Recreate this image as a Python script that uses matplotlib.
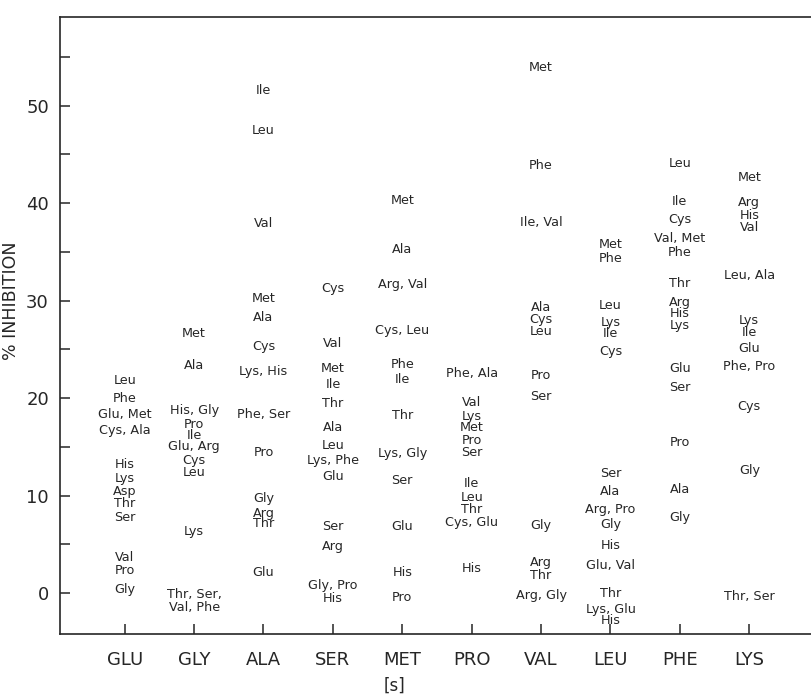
import matplotlib
matplotlib.use("Agg")
import matplotlib.pyplot as plt
from matplotlib.ticker import MultipleLocator

# substrate columns along x
columns = ["GLU", "GLY", "ALA", "SER", "MET", "PRO", "VAL", "LEU", "PHE", "LYS"]

# inhibiting amino acids in each column and their % inhibition
glu_names = ["Leu", "Phe", "Glu, Met", "Cys, Ala", "His", "Lys", "Asp", "Thr", "Ser", "Val", "Pro", "Gly"]
glu_vals = [21.8, 20.0, 18.3, 16.7, 13.2, 11.8, 10.4, 9.2, 7.8, 3.6, 2.3, 0.4]

gly_names = ["Met", "Ala", "His, Gly", "Pro", "Ile", "Glu, Arg", "Cys", "Leu", "Lys", "Thr, Ser,\nVal, Phe"]
gly_vals = [26.6, 23.3, 18.7, 17.3, 16.2, 15.0, 13.6, 12.4, 6.3, -0.85]

ala_names = ["Ile", "Leu", "Val", "Met", "Ala", "Cys", "Lys, His", "Phe, Ser", "Pro", "Gly", "Arg", "Thr", "Glu"]
ala_vals = [51.6, 47.5, 37.9, 30.2, 28.3, 25.3, 22.7, 18.3, 14.4, 9.7, 8.2, 7.1, 2.1]

ser_names = ["Cys", "Val", "Met", "Ile", "Thr", "Ala", "Leu", "Lys, Phe", "Glu", "Ser", "Arg", "Gly, Pro", "His"]
ser_vals = [31.2, 25.6, 23.0, 21.4, 19.4, 17.0, 15.1, 13.6, 12.0, 6.8, 4.8, 0.8, -0.6]

met_names = ["Met", "Ala", "Arg, Val", "Cys, Leu", "Phe", "Ile", "Thr", "Lys, Gly", "Ser", "Glu", "His", "Pro"]
met_vals = [40.3, 35.2, 31.7, 26.9, 23.5, 21.9, 18.2, 14.3, 11.5, 6.8, 2.1, -0.5]

pro_names = ["Phe, Ala", "Val", "Lys", "Met", "Pro", "Ser", "Ile", "Leu", "Thr", "Cys, Glu", "His"]
pro_vals = [22.5, 19.6, 18.1, 17.0, 15.7, 14.4, 11.2, 9.8, 8.6, 7.2, 2.5]

val_names = ["Met", "Phe", "Ile, Val", "Ala", "Cys", "Leu", "Pro", "Ser", "Gly", "Arg", "Thr", "Arg, Gly"]
val_vals = [53.9, 43.9, 38.0, 29.3, 28.1, 26.8, 22.3, 20.2, 6.9, 3.1, 1.8, -0.3]

leu_names = ["Met", "Phe", "Leu", "Lys", "Ile", "Cys", "Ser", "Ala", "Arg, Pro", "Gly", "His",
             "Glu, Val", "Thr", "Lys, Glu", "His"]
leu_vals = [35.8, 34.3, 29.5, 27.8, 26.6, 24.8, 12.3, 10.4, 8.6, 7.0, 4.9, 2.8, 0.0, -1.7, -2.8]

phe_names = ["Leu", "Ile", "Cys", "Val, Met", "Phe", "Thr", "Arg", "His", "Lys", "Glu", "Ser", "Pro", "Ala", "Gly"]
phe_vals = [44.1, 40.2, 38.3, 36.4, 34.9, 31.8, 29.8, 28.7, 27.5, 23.0, 21.1, 15.4, 10.6, 7.8]

lys_names = ["Met", "Arg", "His", "Val", "Leu, Ala", "Lys", "Ile", "Glu", "Phe, Pro", "Cys", "Gly", "Thr, Ser"]
lys_vals = [42.6, 40.1, 38.7, 37.5, 32.6, 28.0, 26.7, 25.1, 23.2, 19.1, 12.6, -0.4]

all_names = [glu_names, gly_names, ala_names, ser_names, met_names,
             pro_names, val_names, leu_names, phe_names, lys_names]
all_vals = [glu_vals, gly_vals, ala_vals, ser_vals, met_vals,
            pro_vals, val_vals, leu_vals, phe_vals, lys_vals]

ink = "#262626"
fig = plt.figure(figsize=(8.12, 7.0), dpi=100)
ax = fig.add_axes([0.0739, 0.0943, 0.9261, 0.8814])

for i, (names, vals) in enumerate(zip(all_names, all_vals)):
    for name, v in zip(names, vals):
        ax.text(i, v, name, ha="center", va="center", fontsize=9.2,
                color=ink, linespacing=1.0, family="DejaVu Sans")

ax.set_xlim(-0.932, 9.904)
ax.set_ylim(-4.2, 59.1)
ax.set_xticks(range(len(columns)))
ax.set_xticklabels(columns, fontsize=13)
ax.yaxis.set_major_locator(MultipleLocator(10))
ax.yaxis.set_minor_locator(MultipleLocator(5))
ax.tick_params(axis="both", which="both", direction="in", color=ink, width=1.1)
ax.tick_params(axis="y", which="both", length=7, labelsize=13, labelcolor=ink, pad=8)
ax.tick_params(axis="x", length=7, labelcolor=ink, pad=12)
ax.spines["right"].set_visible(False)
for s in ["left", "top", "bottom"]:
    ax.spines[s].set_color(ink)
    ax.spines[s].set_linewidth(1.2)

ax.set_ylabel("% INHIBITION", fontsize=12.5, color=ink)
ax.yaxis.set_label_coords(-0.053, 0.54)
ax.set_xlabel("[s]", fontsize=12, color=ink)
ax.xaxis.set_label_coords(0.445, -0.07)

fig.savefig("out.png", dpi=100)
